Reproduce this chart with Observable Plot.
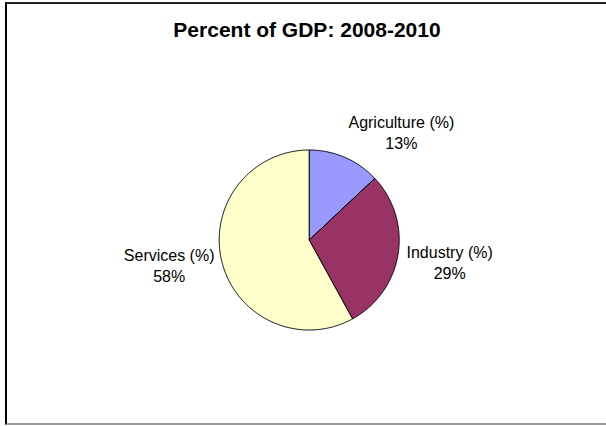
<!DOCTYPE html>
<html><head><meta charset="utf-8">
<script src="https://cdn.jsdelivr.net/npm/d3@7"></script>
<script src="https://cdn.jsdelivr.net/npm/@observablehq/plot@0.6"></script>
<style>
html,body{margin:0;padding:0;background:#fff;overflow:hidden;}
#wrap{position:relative;width:606px;height:426px;overflow:hidden;}
#frame{position:absolute;left:5px;top:2px;width:700px;height:423px;border-left:2px solid #000;border-top:2px solid #222;border-bottom:2px solid #999;box-sizing:border-box;}
#title{position:absolute;left:0;top:18.7px;width:614px;text-align:center;font:bold 21px "Liberation Sans",Arial,sans-serif;line-height:21px;color:#000;}
#chart{position:absolute;left:0;top:0;}
</style></head>
<body>
<div id="wrap"><div id="frame"></div><div id="title">Percent of GDP: 2008-2010</div><div id="chart"></div></div>
<script>
const categories = ["Agriculture (%)", "Industry (%)", "Services (%)"];
const shares = [13, 29, 58];
const sliceColors = ["#9999FF", "#993366", "#FFFFCC"];

// layout settings
const labelRadius = 1.58;             // in pie radii
const labelAngleNudge = [17, 0, 4.4]; // degrees, mimics Excel best-fit placement

const rows = categories.map((c, i) => ({cat: c, value: shares[i]}));
const arcs = d3.pie().sort(null).value(d => d.value)(rows);

const outline = [];
arcs.forEach(a => {
  outline.push({cat: a.data.cat, x: 0, y: 0});
  const n = Math.max(2, Math.ceil((a.endAngle - a.startAngle) / (Math.PI / 360)));
  for (let k = 0; k <= n; k++) {
    const t = a.startAngle + (a.endAngle - a.startAngle) * k / n;
    outline.push({cat: a.data.cat, x: Math.sin(t), y: Math.cos(t)});
  }
  outline.push({cat: a.data.cat, x: 0, y: 0});
});

const labels = arcs.map((a, i) => {
  const m = (a.startAngle + a.endAngle) / 2 + labelAngleNudge[i] * Math.PI / 180;
  return {x: labelRadius * Math.sin(m), y: labelRadius * Math.cos(m),
          text: a.data.cat + "\n" + a.data.value + "%"};
});

const chart = Plot.plot({
  width: 606, height: 426,
  margin: 0,
  style: {background: "transparent", fontFamily: "'Liberation Sans', Arial, sans-serif"},
  x: {domain: [-1, 1], range: [218.7, 398.7], axis: null},
  y: {domain: [-1, 1], range: [329.5, 149.5], axis: null},
  color: {domain: categories, range: sliceColors},
  marks: [
    Plot.line(outline, {x: "x", y: "y", z: "cat", fill: "cat", stroke: "#000", strokeWidth: 1, strokeLinejoin: "round", curve: "linear"}),
    Plot.text(labels, {x: "x", y: "y", text: "text", fontSize: 16, lineHeight: 1.31, fill: "#000", textAnchor: "middle"})
  ]
});
document.getElementById("chart").appendChild(chart);
</script>
</body></html>
